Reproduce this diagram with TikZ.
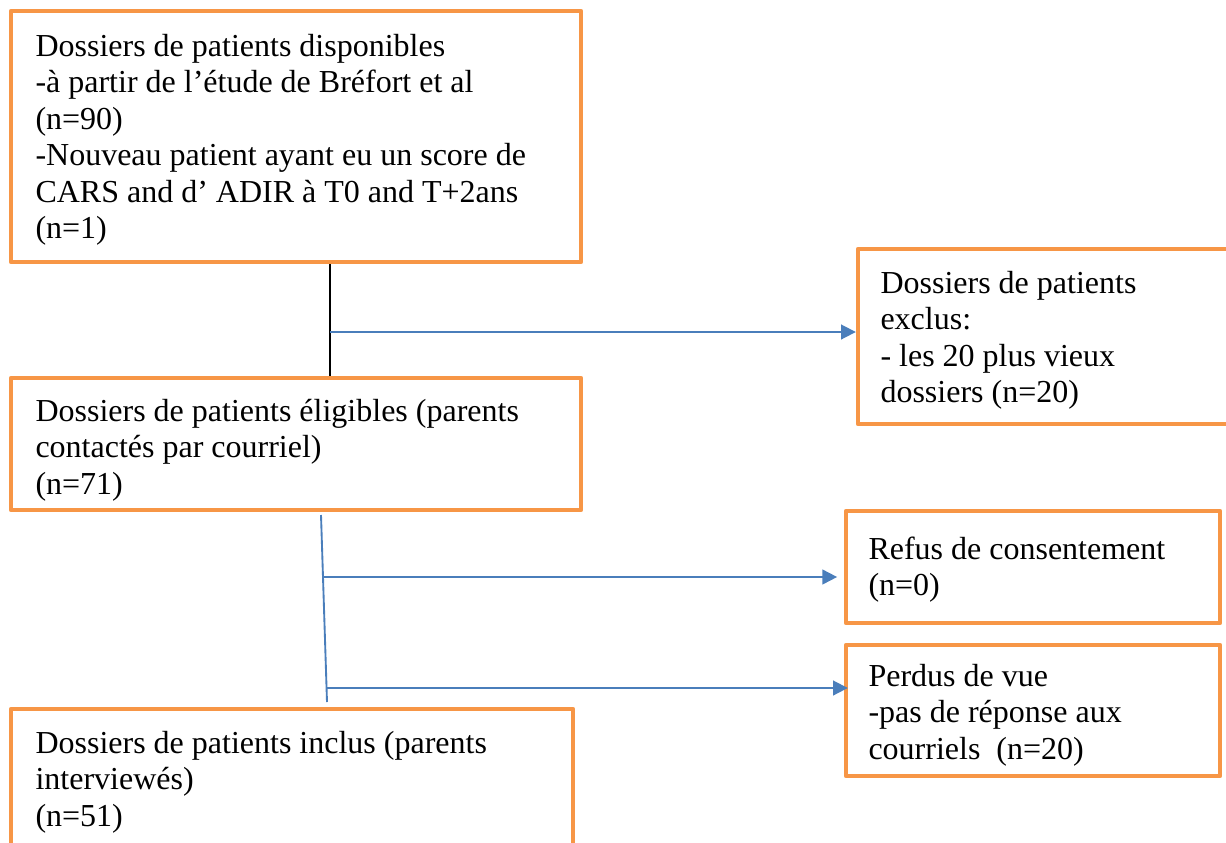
\documentclass[tikz,border=0pt]{standalone}
\usepackage{fontspec}
\setmainfont{Liberation Serif}
\usetikzlibrary{arrows.meta,fit}

\definecolor{boxorange}{RGB}{247,150,70}
\definecolor{linkblue}{RGB}{74,126,187}

\tikzset{every picture/.style={line width=0.75pt}}
\tikzset{
  box/.style={draw=boxorange, line width=3.3pt, rectangle, inner sep=0pt, line join=round},
  txt/.style={anchor=north west, inner sep=0pt, align=left, font=\fontsize{24}{27.4}\selectfont, execute at begin node=\strut},
  blk/.style={draw=black, line width=1.4pt},
  blu/.style={draw=linkblue, line width=1.4pt},
  arr/.style={blu, -{Triangle[length=11pt,width=11pt]}}
}

\begin{document}
\begin{tikzpicture}[x=0.75pt,y=0.75pt,yscale=-1,xscale=1]
\useasboundingbox (0,0) rectangle (1226,842);

%Boxes
        \node (dispo) [box, fit={(11,11) (581,262)}] {};
        \node (exclus) [box, fit={(858,249) (1234,424)}] {};
        \node (elig) [box, fit={(11,378) (581,510)}] {};
        \node (refus) [box, fit={(846,511) (1220,623)}] {};
        \node (perdus) [box, fit={(846,645) (1220,776)}] {};
        \node (inclus) [box, fit={(11,709) (573,850)}] {};

% Text Node
        \node (dispo_txt) [txt] at (35,33.4) {Dossiers de patients disponibles\\-à partir de l’étude de Bréfort et al\\(n=90)\\-Nouveau patient ayant eu un score de\\CARS and d’ ADIR à T0 and T+2ans\\(n=1)};
% Text Node
        \node (exclus_txt) [txt] at (880,270.4) {Dossiers de patients\\exclus:\\- les 20 plus vieux\\dossiers (n=20)};
% Text Node
        \node (elig_txt) [txt] at (35,398.4) {Dossiers de patients éligibles (parents\\contactés par courriel)\\(n=71)};
% Text Node
        \node (refus_txt) [txt] at (868,536.4) {Refus de consentement\\(n=0)};
% Text Node
        \node (perdus_txt) [txt] at (868,663.4) {Perdus de vue\\-pas de réponse aux\\courriels\ \ (n=20)};
% Text Node
        \node (inclus_txt) [txt] at (35,730.4) {Dossiers de patients inclus (parents\\interviewés)\\(n=51)};

% Connection
        \coordinate (split1) at (330,332);
        \draw [blk] (dispo.south -| split1) -- (elig.north -| split1);
        \draw [arr] (split1) -- (exclus.west |- split1);
% Connection
        \coordinate (stem_top) at (321,515);
        \coordinate (stem_bot) at (327,702);
        \draw [blu] (stem_top) -- (stem_bot);
        \coordinate (split2) at (323,577);
        \coordinate (split3) at (326.6,688);
        \draw [arr, shorten >=5pt] (split2) -- (refus.west |- split2);
        \draw [arr, shorten >=-3pt] (split3) -- (perdus.west |- split3);

    \end{tikzpicture}
\end{document}
